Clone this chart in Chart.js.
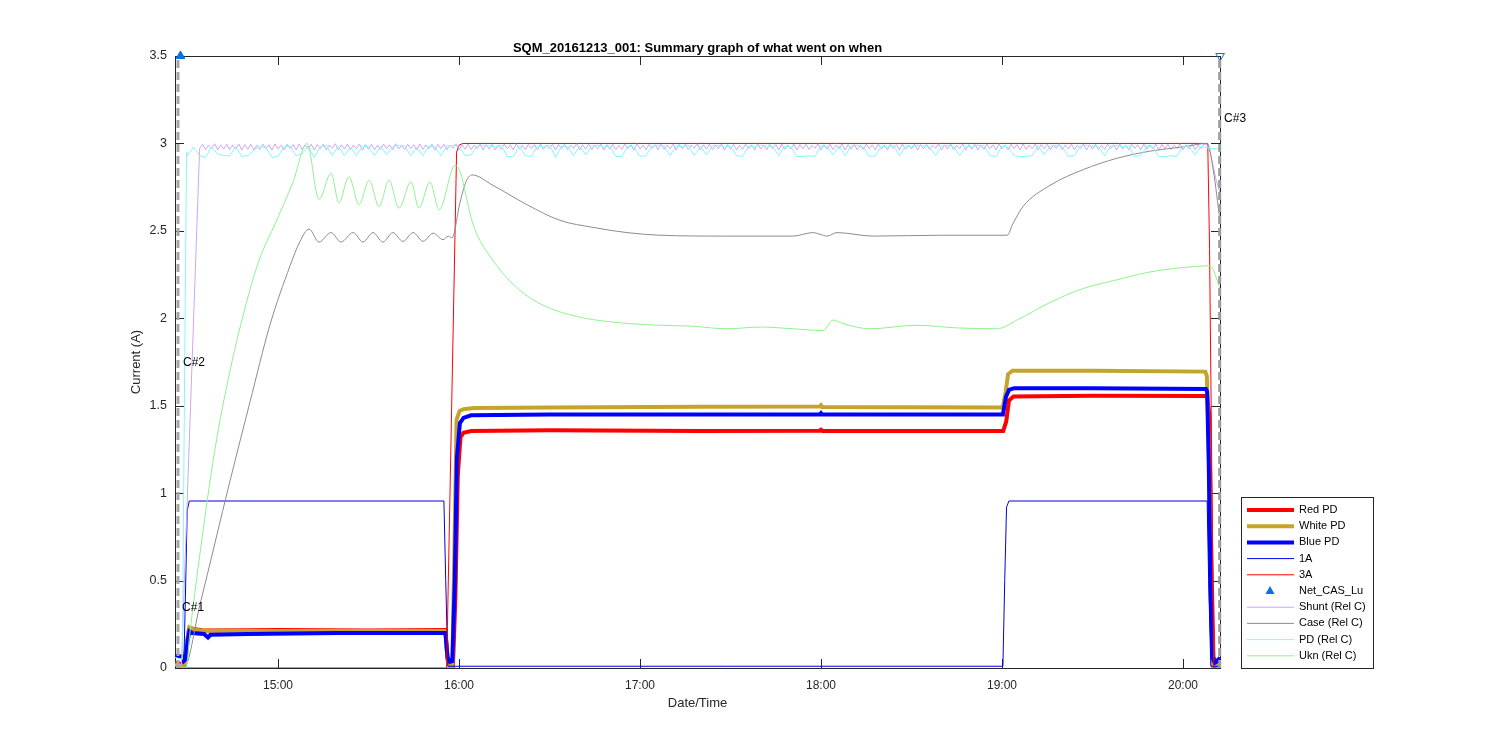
<!DOCTYPE html>
<html>
<head>
<meta charset="utf-8">
<title>SQM_20161213_001</title>
<script src="https://cdn.jsdelivr.net/npm/chart.js@4.4.1/dist/chart.umd.min.js"></script>
<style>
  body { margin: 0; background: #fff; }
  canvas { display: block; }
</style>
</head>
<body>
<canvas id="chart" width="1500" height="750"></canvas>
<script>
// time is minutes after 14:00
const xMin = 25.86, xMax = 372.26;
const xTickMinutes = [60, 120, 180, 240, 300, 360];
const xTickLabels = ['15:00', '16:00', '17:00', '18:00', '19:00', '20:00'];

const redPD = [[25.9,0.03],[28.8,0.02],[29.6,0.12],[30.5,0.22],[31.5,0.225],[35,0.215],[60,0.217],[90,0.215],[115.5,0.217],[116.2,0.05],[117.0,0.01],[118.0,0.01],[118.8,0.4],[119.6,1.1],[120.5,1.32],[121.5,1.345],[124,1.355],[150,1.36],[200,1.355],[239.5,1.357],[240,1.363],[240.5,1.356],[280,1.355],[300.4,1.356],[301.4,1.41],[302.3,1.53],[303.8,1.553],[330,1.557],[368.0,1.555],[368.7,1.45],[369.4,0.6],[370.1,0.06],[371.3,0.03],[372.3,0.04]];
const whitePD = [[25.9,0.02],[29.0,0.01],[29.8,0.15],[30.6,0.232],[31.5,0.225],[34,0.215],[60,0.212],[115.5,0.212],[116.2,0.05],[117.0,0.0],[117.8,0.0],[118.4,0.6],[119.2,1.42],[120.2,1.47],[121.5,1.48],[125,1.487],[150,1.49],[200,1.494],[239.6,1.495],[240,1.503],[240.4,1.493],[300.3,1.49],[301.2,1.58],[302.0,1.68],[303.5,1.70],[330,1.70],[367.4,1.695],[367.9,1.67],[368.5,1.3],[369.3,0.35],[370.0,0.0],[371,0.02],[372.3,0.02]];
const bluePD = [[25.9,0.07],[28.3,0.065],[28.8,0.04],[29.4,0.05],[30.0,0.15],[30.6,0.21],[31.5,0.2],[35.5,0.195],[36.8,0.175],[37.6,0.19],[50,0.195],[80,0.2],[115.5,0.2],[116.2,0.06],[117.0,0.035],[117.8,0.04],[118.6,0.5],[119.3,1.2],[120.3,1.40],[121.5,1.43],[124,1.445],[150,1.45],[239.6,1.45],[240,1.458],[240.4,1.45],[300.3,1.45],[301.3,1.55],[302.3,1.59],[304,1.60],[330,1.60],[367.6,1.595],[368.0,1.58],[368.5,1.2],[369.2,0.4],[369.8,0.06],[370.5,0.03],[371.5,0.04],[372.3,0.06]];
const amp1A = [[25.9,0.07],[28.4,0.07],[28.8,0.03],[29.3,0.4],[29.9,0.9],[30.6,0.955],[115.0,0.955],[115.6,0.5],[116.3,0.01],[300.3,0.01],[300.9,0.5],[301.5,0.92],[302.3,0.955],[368.0,0.955],[368.5,0.5],[369.2,0.01],[372.3,0.01]];
const amp3A = [[25.9,0.0],[115.9,0.0],[119.2,2.95],[120.0,2.99],[121.3,3.0],[368.2,3.0],[368.8,2.4],[370.2,0.0],[372.3,0.0]];
const netCasLu = [[27.68,3.5],[372.3,3.5]];

const shuntHead = [[25.9,0.02],[28.0,0.02],[34.0,2.96]];
const shuntStart = 34, shuntStep = 1;
const shuntValues = [
  2.97,2.995,2.965,2.99,2.972,2.998,2.963,2.992,2.968,2.996,2.964,2.99,2.97,2.997,2.962,2.993,2.967,2.995,2.963,2.99,
  2.966,2.996,2.97,2.992,2.962,2.998,2.968,2.99,2.964,2.995,2.971,2.993,2.963,2.997,2.966,2.991,2.969,2.996,2.962,2.994,
  2.97,2.995,2.965,2.99,2.972,2.998,2.963,2.992,2.968,2.996,2.964,2.99,2.97,2.997,2.962,2.993,2.967,2.995,2.963,2.99,
  2.966,2.996,2.97,2.992,2.962,2.998,2.968,2.99,2.964,2.995,2.971,2.993,2.963,2.997,2.966,2.991,2.969,2.996,2.962,2.994,
  2.97,2.995,2.965,2.99,2.972,2.998,2.963,2.992,2.968,2.996,2.964,2.99,2.97,2.997,2.962,2.993,2.967,2.995,2.963,2.99,
  2.966,2.996,2.97,2.992,2.962,2.998,2.968,2.99,2.964,2.995,2.971,2.993,2.963,2.997,2.966,2.991,2.969,2.996,2.962,2.994,
  2.97,2.995,2.965,2.99,2.972,2.998,2.963,2.992,2.968,2.996,2.964,2.99,2.97,2.997,2.962,2.993,2.967,2.995,2.963,2.99,
  2.966,2.996,2.97,2.992,2.962,2.998,2.968,2.99,2.964,2.995,2.971,2.993,2.963,2.997,2.966,2.991,2.969,2.996,2.962,2.994,
  2.97,2.995,2.965,2.99,2.972,2.998,2.963,2.992,2.968,2.996,2.964,2.99,2.97,2.997,2.962,2.993,2.967,2.995,2.963,2.99,
  2.966,2.996,2.97,2.992,2.962,2.998,2.968,2.99,2.964,2.995,2.971,2.993,2.963,2.997,2.966,2.991,2.969,2.996,2.962,2.994,
  2.97,2.995,2.965,2.99,2.972,2.998,2.963,2.992,2.968,2.996,2.964,2.99,2.97,2.997,2.962,2.993,2.967,2.995,2.963,2.99,
  2.966,2.996,2.97,2.992,2.962,2.998,2.968,2.99,2.964,2.995,2.971,2.993,2.963,2.997,2.966,2.991,2.969,2.996,2.962,2.994,
  2.97,2.995,2.965,2.99,2.972,2.998,2.963,2.992,2.968,2.996,2.964,2.99,2.97,2.997,2.962,2.993,2.967,2.995,2.963,2.99,
  2.966,2.996,2.97,2.992,2.962,2.998,2.968,2.99,2.964,2.995,2.971,2.993,2.963,2.997,2.966,2.991,2.969,2.996,2.962,2.994,
  2.97,2.995,2.965,2.99,2.972,2.998,2.963,2.992,2.968,2.996,2.964,2.99,2.97,2.997,2.962,2.993,2.967,2.995,2.963,2.99,
  2.966,2.996,2.97,2.992,2.962,2.998,2.968,2.99,2.964,2.995,2.971,2.993,2.963,2.997,2.966,2.991,2.969,2.996,2.962,2.994,
  2.97,2.995,2.965,2.99,2.972,2.998,2.963,2.992,2.968,2.996,2.964,2.99,2.97,2.997
];
const shuntTail = [[368,2.99],[369,2.95],[370,2.87],[371,2.79],[372.3,2.72]];

const caseRel = [[25.9,0.02],[28.8,0.0],[34.1,0.36],[44.1,1.07],[50.7,1.52],[57.3,1.96],[64.0,2.3],[67.3,2.44],[70.3,2.51],[73.6,2.436],[77.6,2.49],[80.9,2.436],[84.9,2.49],[88.2,2.436],[91.5,2.49],[94.8,2.436],[98.1,2.49],[101.4,2.44],[104.8,2.49],[108.1,2.44],[111.4,2.487],[114.7,2.45],[116.5,2.47],[117.7,2.46],[120.3,2.66],[122.3,2.78],[124.3,2.82],[131.3,2.76],[142.5,2.65],[153.5,2.56],[164.4,2.52],[175.7,2.49],[186.6,2.475],[208.8,2.47],[230.7,2.47],[237.3,2.49],[239.7,2.48],[242.0,2.47],[245.3,2.49],[257.2,2.47],[280,2.475],[301.7,2.475],[303.6,2.54],[307.0,2.64],[315.9,2.76],[326.9,2.85],[338.1,2.915],[349.1,2.956],[360.0,2.98],[368.0,3.0],[370.0,2.85],[372.3,2.55]];

const pdHead = [[25.9,0.06],[28.3,0.05],[29.2,2.0],[29.7,2.95]];
const pdStart = 30, pdStep = 2;
const pdValues = [
  2.93,2.98,2.93,2.92,2.98,2.94,2.93,2.93,2.98,2.925,2.93,2.96,2.985,2.975,2.92,2.925,2.98,2.985,2.93,2.94,
  2.985,2.92,2.98,2.99,2.93,2.985,2.93,2.98,2.93,2.985,2.98,2.93,2.985,2.935,2.98,2.99,2.985,2.93,2.98,2.93,
  2.985,2.98,2.93,2.985,2.99,2.985,2.93,2.935,2.985,2.99,2.985,2.98,2.99,2.925,2.925,2.985,2.93,2.925,2.985,2.98,
  2.99,2.92,2.985,2.98,2.93,2.985,2.935,2.985,2.99,2.98,2.985,2.925,2.925,2.985,2.98,2.925,2.93,2.985,2.99,2.985,
  2.93,2.985,2.98,2.99,2.93,2.985,2.935,2.985,2.99,2.98,2.985,2.93,2.925,2.985,2.98,2.99,2.985,2.98,2.93,2.985,
  2.98,2.925,2.925,2.93,2.925,2.985,2.98,2.935,2.985,2.93,2.985,2.99,2.98,2.925,2.93,2.985,2.98,2.99,2.93,2.985,
  2.98,2.99,2.985,2.98,2.93,2.985,2.99,2.98,2.93,2.985,2.98,2.99,2.985,2.93,2.925,2.985,2.98,2.93,2.925,2.925,
  2.93,2.985,2.935,2.985,2.99,2.98,2.925,2.93,2.985,2.99,2.985,2.98,2.93,2.985,2.99,2.98,2.985,2.925,2.93,2.985,
  2.98,2.925,2.925,2.93,2.925,2.985,2.98,2.935,2.985,2.975,2.97,2.97
];

const uknRel = [[25.9,0.02],[29.5,0.0],[30.8,0.2],[34.1,0.65],[39.1,1.25],[44.1,1.7],[49.7,2.1],[53.7,2.33],[59.3,2.55],[65.0,2.78],[69.6,3.0],[73.6,2.68],[77.6,2.83],[80.2,2.66],[83.5,2.81],[86.9,2.65],[90.2,2.79],[93.5,2.64],[96.8,2.79],[100.1,2.63],[104.1,2.78],[106.7,2.63],[110.4,2.78],[113.4,2.62],[118.7,2.875],[120.3,2.84],[124.6,2.54],[131.3,2.33],[140.2,2.16],[147.8,2.075],[159.1,2.01],[170.1,1.98],[186.6,1.96],[197,1.955],[208.8,1.94],[220,1.95],[230.7,1.94],[240.7,1.93],[244.0,1.99],[247.3,1.97],[256.2,1.94],[271.8,1.96],[285,1.945],[298.3,1.94],[305.0,1.99],[315.9,2.09],[326.9,2.17],[338.1,2.22],[349.1,2.265],[360.0,2.29],[369.0,2.30],[372.3,2.17]];

const cursorLeft = [[26.85,0],[26.85,3.5]];
const cursorRight = [[372.15,0],[372.15,3.5]];
const cursorLabels = [
  { text: 'C#1', x: 28.2, y: 0.343 },
  { text: 'C#2', x: 28.5, y: 1.744 },
  { text: 'C#3', x: 373.6, y: 3.14 }
];

const pairs = arr => arr.map(p => ({ x: p[0], y: p[1] }));
const sampled = (start, step, vals) => vals.map((v, i) => ({ x: start + i * step, y: v }));

const FONT = '"Liberation Sans", Arial, Helvetica, sans-serif';
Chart.defaults.font.family = FONT;
Chart.defaults.color = '#262626';

function line(label, data, color, width, extra) {
  return Object.assign({
    label: label, data: data, borderColor: color, backgroundColor: color,
    borderWidth: width, pointRadius: 0, fill: false, tension: 0
  }, extra || {});
}

const datasets = [
  line('Red PD', pairs(redPD), '#ff0000', 4),
  line('White PD', pairs(whitePD), '#c4a42a', 4),
  line('Blue PD', pairs(bluePD), '#0000ff', 4),
  line('1A', pairs(amp1A), '#0000e6', 1),
  line('3A', pairs(amp3A), '#ff0000', 1),
  {
    label: 'Net_CAS_Lu', data: pairs(netCasLu), showLine: false,
    pointStyle: 'triangle', pointRadius: 5, pointRotation: [0, 180],
    pointBackgroundColor: ['#0b6fe5', 'rgba(0,0,0,0)'], pointBorderColor: '#0b6fe5',
    pointBorderWidth: 1, borderColor: '#0b6fe5', backgroundColor: '#0b6fe5', clip: false
  },
  line('Shunt (Rel C)', pairs(shuntHead).concat(sampled(shuntStart, shuntStep, shuntValues), pairs(shuntTail)), '#cca6f7', 1),
  line('Case (Rel C)', pairs(caseRel), '#8c8c8c', 1, { cubicInterpolationMode: 'monotone' }),
  line('PD (Rel C)', pairs(pdHead).concat(sampled(pdStart, pdStep, pdValues)), '#84f7ff', 1),
  line('Ukn (Rel C)', pairs(uknRel), '#8ef28e', 1, { cubicInterpolationMode: 'monotone' }),
  line('cursor1', pairs(cursorLeft), '#a6a6a6', 3, { borderDash: [8, 4], hideInLegend: true, clip: false }),
  line('cursor2', pairs(cursorRight), '#9c9c9c', 3, { borderDash: [8, 4], hideInLegend: true, clip: false })
];
// later datasets drawn on top, like the original plot order
datasets.forEach((d, i) => { d.order = -i; });

const axesBox = {
  id: 'axesBox',
  beforeDatasetsDraw(chart) {
    const { ctx, chartArea: a, scales: { x, y } } = chart;
    ctx.save();
    ctx.strokeStyle = '#262626';
    ctx.lineWidth = 1;
    ctx.strokeRect(a.left + 0.5, a.top + 0.5, a.right - a.left, a.bottom - a.top);
    ctx.beginPath();
    xTickMinutes.forEach(v => {
      const px = Math.round(x.getPixelForValue(v)) + 0.5;
      ctx.moveTo(px, a.bottom); ctx.lineTo(px, a.bottom - 9);
      ctx.moveTo(px, a.top); ctx.lineTo(px, a.top + 9);
    });
    y.ticks.forEach(t => {
      const py = Math.round(y.getPixelForValue(t.value)) + 0.5;
      ctx.moveTo(a.left, py); ctx.lineTo(a.left + 9, py);
      ctx.moveTo(a.right, py); ctx.lineTo(a.right - 9, py);
    });
    ctx.stroke();
    ctx.restore();
  },
  afterDraw(chart) {
    const { ctx, chartArea: a, scales: { x, y } } = chart;
    ctx.save();
    // title
    ctx.fillStyle = '#000';
    ctx.font = 'bold 13px ' + FONT;
    ctx.textAlign = 'center';
    ctx.textBaseline = 'middle';
    ctx.fillText('SQM_20161213_001: Summary graph of what went on when', (a.left + a.right) / 2, 48);

    // cursor labels
    ctx.font = '12px ' + FONT;
    ctx.textAlign = 'left';
    cursorLabels.forEach(c => ctx.fillText(c.text, x.getPixelForValue(c.x), y.getPixelForValue(c.y)));

    // legend box
    const items = chart.data.datasets.filter(d => !d.hideInLegend);
    const left = 1241, top = 497, w = 132, rowH = 16.2;
    const h = items.length * rowH + 9;
    ctx.fillStyle = '#fff';
    ctx.fillRect(left, top, w, h);
    ctx.strokeStyle = '#262626';
    ctx.lineWidth = 1;
    ctx.strokeRect(left + 0.5, top + 0.5, w, h);
    ctx.font = '11px ' + FONT;
    items.forEach((d, i) => {
      const cy = top + 13 + i * rowH;
      if (d.showLine === false) {
        ctx.fillStyle = d.backgroundColor;
        ctx.beginPath();
        ctx.moveTo(1270, cy - 5);
        ctx.lineTo(1274.5, cy + 3);
        ctx.lineTo(1265.5, cy + 3);
        ctx.closePath();
        ctx.fill();
      } else {
        ctx.strokeStyle = d.borderColor;
        ctx.lineWidth = d.borderWidth;
        ctx.beginPath();
        ctx.moveTo(1247, cy);
        ctx.lineTo(1294, cy);
        ctx.stroke();
      }
      ctx.fillStyle = '#000';
      ctx.fillText(d.label, 1299, cy);
    });
    ctx.restore();
  }
};

new Chart(document.getElementById('chart'), {
  type: 'line',
  data: { datasets: datasets },
  options: {
    responsive: false,
    animation: false,
    events: [],
    layout: { padding: { left: 125, right: 280, top: 56, bottom: 32 } },
    plugins: { legend: { display: false }, tooltip: { enabled: false }, title: { display: false } },
    scales: {
      x: {
        type: 'linear', min: xMin, max: xMax,
        grid: { display: false, drawTicks: false }, border: { display: false },
        afterBuildTicks: s => { s.ticks = xTickMinutes.map(v => ({ value: v })); },
        afterFit: s => { s.height = 50; },
        ticks: {
          padding: 10, font: { size: 12 }, color: '#262626', maxRotation: 0,
          callback: v => xTickLabels[xTickMinutes.indexOf(v)]
        },
        title: { display: true, text: 'Date/Time', font: { size: 13 }, color: '#262626', padding: { top: 0, bottom: 7 } }
      },
      y: {
        min: 0, max: 3.5,
        grid: { display: false, drawTicks: false }, border: { display: false },
        afterFit: s => { s.width = 50; },
        ticks: {
          stepSize: 0.5, padding: 8, font: { size: 12.5 }, color: '#262626',
          callback: v => String(Math.round(v * 10) / 10)
        },
        title: { display: true, text: 'Current (A)', font: { size: 13 }, color: '#262626', padding: { top: 4, bottom: 4 } }
      }
    }
  },
  plugins: [axesBox]
});
</script>
</body>
</html>
